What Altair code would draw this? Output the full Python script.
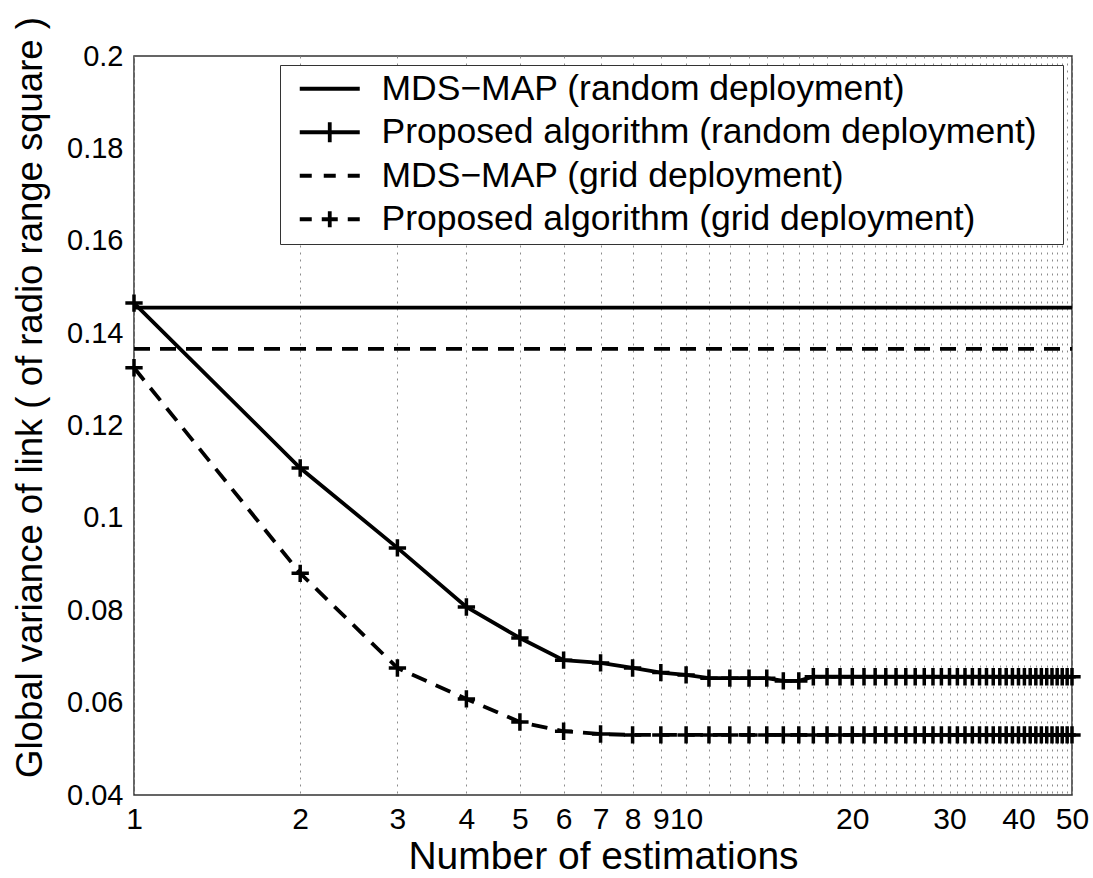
import altair as alt
import pandas as pd

# ---- data ----
estimations = list(range(1, 51))
mds_x = [1, 50]
mds_random = [0.1455, 0.1455]
mds_grid = [0.1366, 0.1366]
proposed_random = [
    0.1465, 0.1108, 0.0935, 0.0807, 0.0740, 0.0692, 0.0686, 0.0675, 0.0665, 0.0660,
    0.0653, 0.0653, 0.0653, 0.0653, 0.0647, 0.0647, 0.0656, 0.0656, 0.0656, 0.0656,
    0.0656, 0.0656, 0.0656, 0.0656, 0.0656, 0.0656, 0.0656, 0.0656, 0.0656, 0.0656,
    0.0656, 0.0656, 0.0656, 0.0656, 0.0656, 0.0656, 0.0656, 0.0656, 0.0656, 0.0656,
    0.0656, 0.0656, 0.0656, 0.0656, 0.0656, 0.0656, 0.0656, 0.0656, 0.0656, 0.0656,
]
proposed_grid = [
    0.1325, 0.0880, 0.0675, 0.0608, 0.0558, 0.0538, 0.0532, 0.0530, 0.0530, 0.0530,
    0.0530, 0.0530, 0.0530, 0.0530, 0.0530, 0.0530, 0.0530, 0.0530, 0.0530, 0.0530,
    0.0530, 0.0530, 0.0530, 0.0530, 0.0530, 0.0530, 0.0530, 0.0530, 0.0530, 0.0530,
    0.0530, 0.0530, 0.0530, 0.0530, 0.0530, 0.0530, 0.0530, 0.0530, 0.0530, 0.0530,
    0.0530, 0.0530, 0.0530, 0.0530, 0.0530, 0.0530, 0.0530, 0.0530, 0.0530, 0.0530,
]
series_names = [
    "MDS\u2212MAP (random deployment)",
    "Proposed algorithm (random deployment)",
    "MDS\u2212MAP (grid deployment)",
    "Proposed algorithm (grid deployment)",
]
x_labelled = [1, 2, 3, 4, 5, 6, 7, 8, 9, 10, 20, 30, 40, 50]
y_ticks = [0.04, 0.06, 0.08, 0.10, 0.12, 0.14, 0.16, 0.18, 0.20]

# ---- tables ----
df_mr = pd.DataFrame({"x": mds_x, "y": mds_random})
df_mg = pd.DataFrame({"x": mds_x, "y": mds_grid})
df_pr = pd.DataFrame({"x": estimations, "y": proposed_random})
df_pg = pd.DataFrame({"x": estimations, "y": proposed_grid})
df_leg = pd.DataFrame({
    "series": series_names,
    "x": [1, 1, 1, 1],
    "y": [mds_random[0], proposed_random[0], mds_grid[0], proposed_grid[0]],
})

FONT = "Liberation Sans"
plus_path = "M-1,0H1M0,-1V1"
legend_paths = [
    "M-0.4,0H5.6",
    "M-0.4,0H5.6M2.6,-1V1",
    "M-0.4,0H0.8M2,0H3.2M4.4,0H5.6",
    "M-0.4,0H0.8M1.8,0H3.4M2.6,-0.8V0.8M4.4,0H5.6",
]

label_test = "indexof([" + ",".join(str(v) for v in x_labelled) + "], datum.value) >= 0 ? datum.label : ''"

xscale = alt.Scale(type="log", domain=[1, 50], nice=False)
yscale = alt.Scale(domain=[0.04, 0.2], nice=False, zero=False)

x_axis = alt.Axis(
    values=estimations, labelExpr=label_test, grid=True, gridDash=[2, 5],
    gridColor="#8c8c8c", gridWidth=1, ticks=False, domain=False,
    labelFont=FONT, labelFontSize=30, labelColor="black", labelPadding=9,
    labelFlush=False, labelOverlap=False,
    title="Number of estimations", titleFont=FONT, titleFontSize=39,
    titleFontWeight="normal", titleColor="black", titleX=469, titleY=61,
    titleBaseline="middle", titleAlign="center",
)
y_axis = alt.Axis(
    values=y_ticks, format=".2~f", grid=False, ticks=False, domain=False,
    labelFont=FONT, labelFontSize=29, labelColor="black", labelPadding=11,
    labelFlush=False, labelOverlap=False,
    title="Global variance of link ( of radio range square )", titleFont=FONT,
    titleFontSize=36.5, titleFontWeight="normal", titleColor="black",
    titleX=-104, titleY=341, titleBaseline="middle", titleAlign="center",
)

X0 = alt.X("x:Q", scale=xscale, axis=x_axis)
Y0 = alt.Y("y:Q", scale=yscale, axis=y_axis)
X = alt.X("x:Q", scale=xscale)
Y = alt.Y("y:Q", scale=yscale)

line_mr = alt.Chart(df_mr).mark_line(color="black", strokeWidth=3.8).encode(x=X0, y=Y0)
line_mg = alt.Chart(df_mg).mark_line(color="black", strokeWidth=3.8, strokeDash=[16, 10]).encode(x=X, y=Y)
line_pr = alt.Chart(df_pr).mark_line(color="black", strokeWidth=3.8).encode(x=X, y=Y)
line_pg = alt.Chart(df_pg).mark_line(color="black", strokeWidth=3.8, strokeDash=[16, 10]).encode(x=X, y=Y)
pts_pr = alt.Chart(df_pr).mark_point(shape=plus_path, size=300, filled=False, color="black",
                                     strokeWidth=3.5, opacity=1).encode(x=X, y=Y)
pts_pg = alt.Chart(df_pg).mark_point(shape=plus_path, size=300, filled=False, color="black",
                                     strokeWidth=3.5, opacity=1).encode(x=X, y=Y)

legend_layer = alt.Chart(df_leg).mark_point(filled=False, opacity=0, color="black", strokeWidth=3.5).encode(
    x=X, y=Y,
    shape=alt.Shape(
        "series:N",
        scale=alt.Scale(domain=series_names, range=legend_paths),
        legend=alt.Legend(
            title=" ", titleOrient="right", titlePadding=20, titleFontSize=1,
            orient="top-right", offset=9, padding=6,
            strokeColor="#333333", fillColor="white",
            labelFont=FONT, labelFontSize=35.5, labelColor="black", labelLimit=1000,
            labelOffset=60, rowPadding=6.5,
            symbolSize=400, symbolStrokeWidth=3.8, symbolStrokeColor="black",
            symbolFillColor="transparent", symbolOpacity=1,
        ),
    ),
)

chart = alt.layer(line_mr, line_mg, line_pr, line_pg, pts_pr, pts_pg, legend_layer).properties(
    width=938, height=739,
    autosize=alt.AutoSizeParams(type="none"),
    padding={"left": 134, "top": 56, "right": 21, "bottom": 83},
    background="white",
).configure_view(stroke="#333333", strokeWidth=1.5)

chart.save("out.html", embed_options={"renderer": "svg", "actions": False})
